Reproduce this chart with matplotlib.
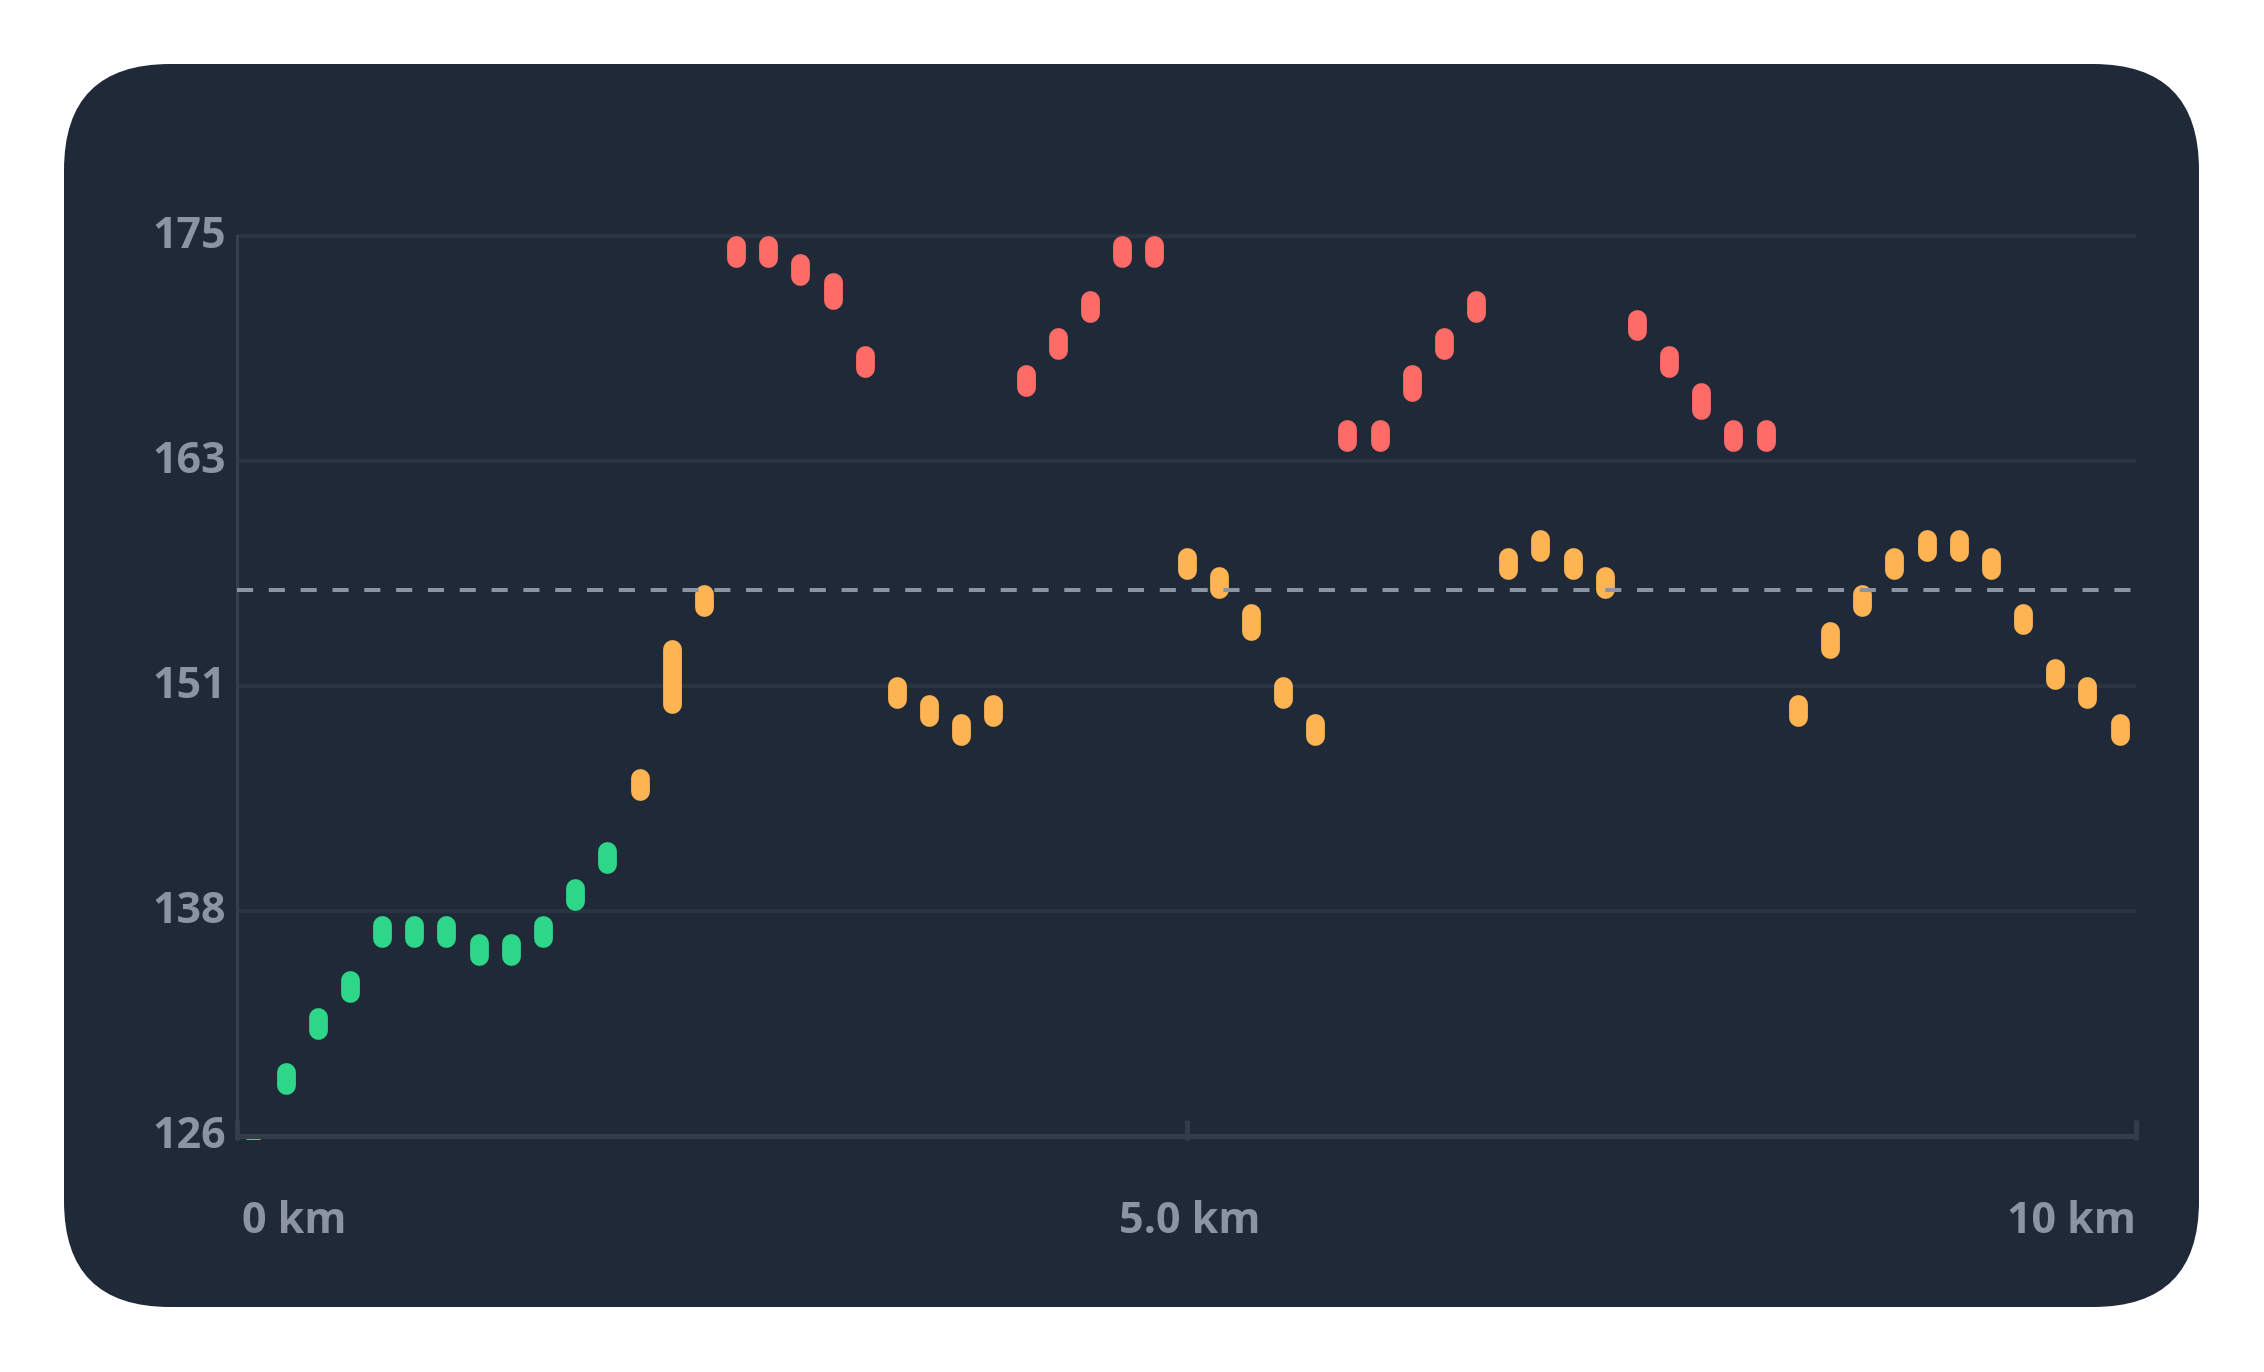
import numpy as np
import matplotlib
matplotlib.use("Agg")
import matplotlib.pyplot as plt
from matplotlib.patches import FancyBboxPatch

# heart rate per segment (bpm), max and min of each segment
hr_max = [126, 130, 133, 135, 138, 138, 138, 137, 137, 138,
          140, 142, 146, 153, 156, 175, 175, 174, 173, 169,
          151, 150, 149, 150, 168, 170, 172, 175, 175, 158,
          157, 155, 151, 149, 165, 165, 168, 170, 172, 158,
          159, 158, 157, 171, 169, 167, 165, 165, 150, 154,
          156, 158, 159, 159, 158, 155, 152, 151, 149]
hr_min = [125, 129, 132, 134, 137, 137, 137, 136, 136, 137,
          139, 141, 145, 149, 155, 174, 174, 173, 171, 168,
          150, 149, 148, 149, 167, 169, 171, 174, 174, 157,
          156, 153, 150, 148, 164, 164, 166, 169, 171, 157,
          158, 157, 156, 170, 168, 165, 164, 164, 149, 152,
          155, 157, 158, 158, 157, 154, 151, 150, 148]
avg_hr = 155.7
total_km = 10
zone_edges = [143, 161]
zone_colors = ["#2ed688", "#ffb454", "#ff6b66"]
y_range = (126, 175)
x_ticks = [0, 5, 10]
x_labels = ["0 km", "5.0 km", "10 km"]

W, H = 2264, 1372
BG = "#1f2937"
GRID = "#2b3441"
BASE = "#333d4a"
TXT = "#8b94a0"
FONT = ["Open Sans", "DejaVu Sans"]

fig = plt.figure(figsize=(W / 100, H / 100), dpi=100, facecolor="white")

# rounded dark card
bg = fig.add_axes([0, 0, 1, 1])
bg.set_xlim(0, W)
bg.set_ylim(H, 0)
bg.axis("off")
bg.add_patch(FancyBboxPatch((64, 64), 2135, 1243,
                            boxstyle="round,pad=0,rounding_size=106",
                            fc=BG, ec="none"))

# plot area in pixels
ax_l, ax_r = 237.3, 2135.7
ylo, yhi = 125.78, 176
px_per = (1136 - 235.7) / (y_range[1] - y_range[0])
ax_top = 235.7 - (yhi - y_range[1]) * px_per
ax_bot = 1136 + (y_range[0] - ylo) * px_per
ax = fig.add_axes([ax_l / W, (H - ax_bot) / H, (ax_r - ax_l) / W,
                   (ax_bot - ax_top) / H])
ax.set_facecolor("none")
ax.set_xlim(0, total_km)
ax.set_ylim(ylo, yhi)

for s in ["top", "right", "bottom"]:
    ax.spines[s].set_visible(False)
ax.spines["left"].set_bounds(*y_range)
ax.spines["left"].set_color("#363f4b")
ax.spines["left"].set_linewidth(2.2)

yt = np.linspace(y_range[0], y_range[1], 5)
ax.set_yticks(yt)
ax.grid(axis="y", color=GRID, linewidth=2.7, zorder=0)
ax.tick_params(axis="y", length=0, labelleft=False)
ax.set_xticks(x_ticks)
ax.tick_params(axis="x", direction="in", length=14.4, width=3.6,
               color=BASE, labelbottom=False)
ax.set_axisbelow(True)

# segments
n = len(hr_max)
seg_x = (np.arange(n) + 0.5) * total_km / n
bar_w = 18.8                      # px
min_h = 31.6                      # px
r = bar_w / 2 / px_per
tops, bots, cols = [], [], []
for hi, lo in zip(hr_max, hr_min):
    h = max((hi - lo) * px_per, min_h) / px_per
    tops.append(hi - r)
    bots.append(hi - h + r)
    cols.append(zone_colors[int(np.searchsorted(zone_edges, hi))])
ax.vlines(seg_x, bots, tops, colors=cols, linewidth=bar_w * 0.72,
          capstyle="round", zorder=3)

ax.axhline(y_range[0], color=BASE, linewidth=3.6, zorder=5)
ax.axhline(avg_hr, color="#8a94a3", linewidth=2.9,
           linestyle=(0, (4, 3.9)), zorder=4)

# labels
for v in yt:
    ax.annotate(str(int(np.floor(v + 0.5))), xy=(0, v),
                xycoords=("axes fraction", "data"), xytext=(-11, -12.5),
                textcoords="offset pixels", ha="right", va="baseline",
                fontsize=31, color=TXT, fontweight="bold", family=FONT,
                annotation_clip=False)

for x, lab, ha, dx in zip(x_ticks, x_labels, ["left", "center", "right"],
                          [5, 3, 0]):
    ax.annotate(lab, xy=(x, y_range[0]), xytext=(dx, -97),
                textcoords="offset pixels", ha=ha, va="baseline",
                fontsize=31, color=TXT, fontweight="bold", family=FONT,
                annotation_clip=False)

fig.savefig("out.png", dpi=100, facecolor="white")
